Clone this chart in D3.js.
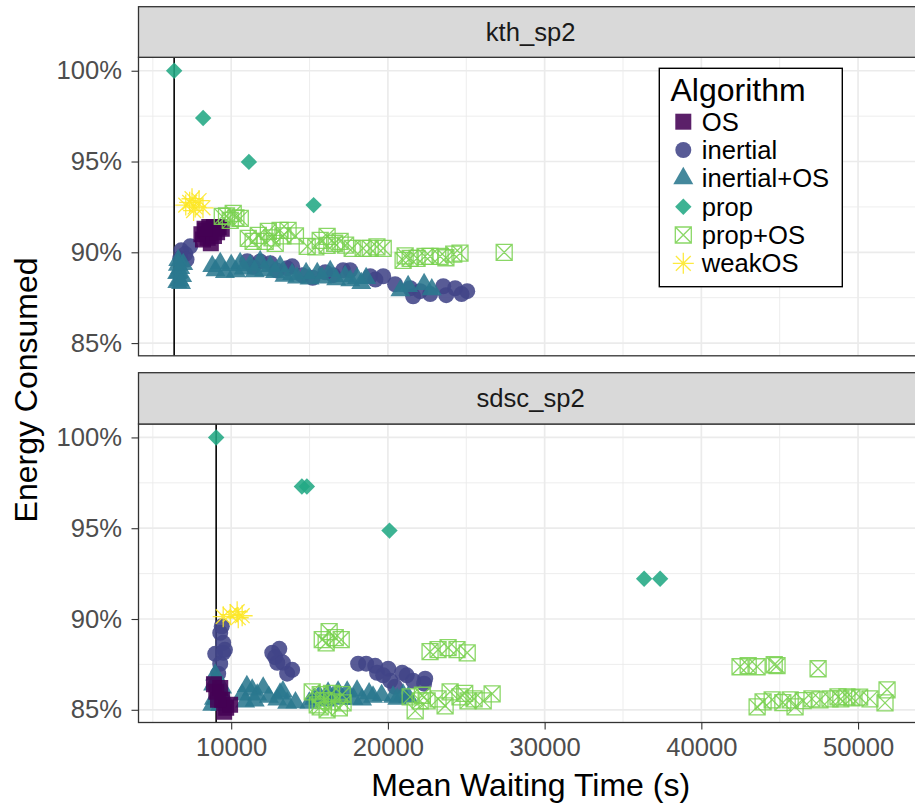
<!DOCTYPE html>
<html>
<head>
<meta charset="utf-8">
<script src="https://cdn.jsdelivr.net/npm/d3@7"></script>
<style>
  body { margin: 0; background: #fff; }
  svg text { font-family: "Liberation Sans", Arial, sans-serif; }
</style>
</head>
<body>
<div class="chart-container"></div>
<script>
/* categories */
const algorithms = ["OS", "inertial", "inertial+OS", "prop", "prop+OS", "weakOS"];
const algoColors = ["#440154", "#414487", "#2A788E", "#22A884", "#7AD151", "#FDE725"];
const algoShapes = ["square", "circle", "triangle", "diamond", "boxx", "star"];
const panels = ["kth_sp2", "sdsc_sp2"];
const xTicks = [10000, 20000, 30000, 40000, 50000];
const yTicks = [85, 90, 95, 100];
const baselineX = [6360, 9040];

/* kth_sp2 : [mean waiting time, energy %] */
const kthOS = [[8100,91.0],[8200,90.7],[8350,91.2],[8600,91.4],[8900,91.4],[9200,91.4],[9400,91.3],
  [8700,90.5],[8500,90.8],[8900,90.9],[9100,91.1],[8300,91.3]];
const kthInertial = [[6810,90.11],[7385,90.33],[6750,89.67],[7070,89.9],[7150,89.6],[11020,89.51],[11850,89.5],
  [12490,89.4],[13570,89.12],[13890,89.23],[14530,88.74],[16510,88.74],[17140,89.01],[17590,89.01],
  [18870,88.68],[19700,88.68],[20460,88.24],[21420,88.02],[21610,87.58],[22060,87.86],[23530,88.13],
  [23720,87.64],[24290,88.02],[25060,87.86],
  [11400,89.2],[12900,89.0],[15200,88.6],[16000,88.9],[19200,88.5],[22700,87.7],[24700,87.7]];
const kthInertialOS = [[6620,89.56],[6750,89.12],[6870,88.68],[6560,88.35],[6940,89.34],[6550,88.85],[6700,88.45],
  [6650,88.9],[6800,88.3],[6600,89.3],
  [8790,89.23],[9300,89.4],[10000,89.29],[10570,89.4],[11210,89.29],[11850,89.5],[12490,89.23],[13120,89.23],
  [13890,88.79],[14780,88.85],[15490,88.85],[16320,88.96],[17270,88.68],[18030,88.57],[18610,88.57],
  [21290,88.13],[22310,88.24],
  [9000,89.0],[9600,88.9],[10300,88.95],[10800,89.1],[11500,88.95],[12100,89.0],[12800,88.9],[13400,88.7],
  [14200,88.6],[15000,88.55],[15800,88.6],[16700,88.5],[17600,88.45],[18300,88.3],[20800,87.9],[22800,87.95]];
const kthProp = [[6360,100],[8210,97.4],[11130,94.98],[15260,92.6]];
const kthPropOS = [[9430,91.98],[10130,92.14],[10580,91.87],[9940,91.76],[11090,90.77],[11730,90.93],[12370,91.15],
  [13120,91.21],[13630,91.21],[12170,90.6],[12810,90.49],[14850,90.33],[15680,90.66],[16120,90.88],[16120,90.38],
  [16950,90.6],[17720,90.22],[18420,90.22],[18870,90.22],[19700,90.22],[20970,89.56],[21420,89.67],[21860,89.67],
  [22370,89.78],[22690,89.78],[23330,89.78],[24600,89.95],[27420,90.0],
  [9700,92.0],[10300,91.9],[11400,90.6],[12600,90.8],[13300,90.9],[14100,90.9],[15400,90.3],[16600,90.5],
  [17300,90.4],[19300,90.3],[21100,89.8],[23700,89.7],[24200,89.9]];
const kthWeakOS = [[7100,92.6],[7500,92.95],[7700,92.5],[7950,92.85],[8200,92.45],[7600,92.3],[7350,92.75]];

/* sdsc_sp2 */
const sdscOS = [[9050,85.99],[9420,85.55],[9680,85.11],[9550,84.89],[9930,85.28],[9160,85.55],[8900,86.4],[9300,86.2]];
const sdscInertial = [[9300,89.24],[9490,88.69],[8980,88.08],[9490,88.14],[9300,87.54],[9170,86.99],
  [12620,88.14],[13070,88.36],[12940,87.59],[13890,87.2],[13570,86.99],[18100,87.54],[18610,87.54],
  [19190,87.42],[19310,87.04],[20020,87.26],[20150,86.6],[20460,86.27],[20910,87.04],[21610,86.6],
  [22380,86.71],[22310,86.44],
  [9400,89.6],[9600,88.3],[12800,87.9],[13300,87.6],[19700,86.9],[21200,86.9]];
const sdscInertialOS = [[8850,86.38],[9170,85.83],[9420,86.21],[8790,85.27],[9300,85.27],[8980,86.93],[9550,85.66],
  [10700,85.83],[11340,86.1],[11660,85.83],[10890,85.44],[12040,86.21],[12940,85.55],[13120,85.88],[13570,85.38],
  [14980,85.38],[15620,85.77],[16180,85.93],[16820,85.99],[17400,85.99],[18030,86.05],[18350,85.55],
  [19050,85.71],[20330,85.71],[20970,85.83],
  [9000,86.6],[9250,86.0],[8900,85.6],[11000,86.3],[11500,85.5],[12400,85.7],[13300,86.0],[14100,85.4],
  [15300,85.6],[16000,85.5],[16500,85.7],[17100,85.6],[17800,85.6],[18800,85.9],[19600,85.8],[20600,85.6],[21300,85.7]];
const sdscProp = [[9040,100],[14510,97.3],[14830,97.3],[20100,94.87],[36350,92.22],[37370,92.22]];
const sdscPropOS = [[15810,88.86],[16250,89.3],[16640,88.97],[17020,88.86],[16060,88.69],
  [15170,85.99],[15680,85.83],[15680,85.16],[16440,85.44],[17080,85.83],[17140,85.38],[16120,85.0],[15490,85.27],
  [16400,85.9],[16900,85.1],[15900,85.5],
  [22690,88.2],[23200,88.31],[23840,88.42],[24410,88.31],[25060,88.14],
  [21420,85.71],[21740,84.94],[22060,85.49],[22500,85.49],[23200,85.6],[23970,85.99],[24600,85.71],
  [25110,85.49],[26080,85.49],[26650,85.88],[23650,85.22],[22200,85.8],[24900,85.9],[25500,85.6],
  [42470,87.37],[42990,87.43],[43560,87.37],[44650,87.48],[44830,87.43],[47450,87.26],
  [43560,85.16],[43940,85.44],[44520,85.55],[45670,85.55],[45980,85.16],[47060,85.6],[47570,85.55],
  [48210,85.6],[48720,85.71],[49290,85.71],[49610,85.66],[50760,85.6],[51850,86.1],[51720,85.38],
  [45200,85.4],[46500,85.5],[48900,85.6],[50100,85.7]];
const sdscWeakOS = [[9490,90.13],[10380,90.4],[10450,90.07],[9940,90.24],[10700,90.18]];

const panelData = [
  [kthOS, kthInertial, kthInertialOS, kthProp, kthPropOS, kthWeakOS],
  [sdscOS, sdscInertial, sdscInertialOS, sdscProp, sdscPropOS, sdscWeakOS]
];

/* layout */
const svg_width = 915, svg_height = 805;
const panel_left = 138.5, panel_right = 922.7;
const strip_top = [6.7, 372.7];
const panel_top = [57.3, 424];
const panel_h = 298.5;
const font_base = 32, font_small = 25.6;

const svg = d3.select(".chart-container").append("svg")
  .attr("width", svg_width).attr("height", svg_height);

const xScale = d3.scaleLinear().domain([4085, 54125]).range([panel_left, panel_right]);

/* point shapes */
function shapePath(shape) {
  if (shape === "square") return d3.symbol(d3.symbolSquare, 16 * 16)();
  if (shape === "circle") return d3.symbol(d3.symbolCircle, Math.PI * 8 * 8)();
  if (shape === "triangle") return d3.symbol(d3.symbolTriangle, Math.sqrt(3) / 4 * 20 * 20)();
  if (shape === "diamond") return "M0,-8.2L8.2,0L0,8.2L-8.2,0Z";
  if (shape === "boxx") {
    const h = 8;
    return `M${-h},${-h}H${h}V${h}H${-h}Z M${-h},${-h}L${h},${h} M${h},${-h}L${-h},${h}`;
  }
  // star: plus + times
  const r = 10.5, q = r * Math.SQRT1_2;
  return `M${-r},0H${r} M0,${-r}V${r} M${-q},${-q}L${q},${q} M${q},${-q}L${-q},${q}`;
}
function styleShape(sel, k) {
  const stroked = algoShapes[k] === "boxx" || algoShapes[k] === "star";
  sel.attr("d", shapePath(algoShapes[k]))
    .attr("fill", stroked ? "none" : algoColors[k])
    .attr("stroke", stroked ? algoColors[k] : "none")
    .attr("stroke-width", stroked ? 1.3 : 0)
    .attr("opacity", 0.88);
}

const drawOrder = [1, 2, 0, 4, 3, 5];

panels.forEach((name, i) => {
  const top = panel_top[i];
  const yScale = d3.scaleLinear().domain([84.30, 100.74]).range([top + panel_h, top]);
  const g = svg.append("g").attr("class", "panel");

  g.append("clipPath").attr("id", `clip${i}`)
    .append("rect").attr("x", panel_left).attr("y", top)
    .attr("width", panel_right - panel_left).attr("height", panel_h);

  const inner = g.append("g").attr("clip-path", `url(#clip${i})`);

  /* grid */
  const xMinor = d3.range(5000, 56000, 10000);
  const yMinor = [87.5, 92.5, 97.5];
  inner.selectAll(".xminor").data(xMinor).join("line")
    .attr("x1", d => xScale(d)).attr("x2", d => xScale(d))
    .attr("y1", top).attr("y2", top + panel_h)
    .attr("stroke", "#EBEBEB").attr("stroke-width", 0.9);
  inner.selectAll(".yminor").data(yMinor).join("line")
    .attr("y1", d => yScale(d)).attr("y2", d => yScale(d))
    .attr("x1", panel_left).attr("x2", panel_right)
    .attr("stroke", "#EBEBEB").attr("stroke-width", 0.9);
  inner.selectAll(".xmajor").data(xTicks).join("line")
    .attr("x1", d => xScale(d)).attr("x2", d => xScale(d))
    .attr("y1", top).attr("y2", top + panel_h)
    .attr("stroke", "#EBEBEB").attr("stroke-width", 1.7);
  inner.selectAll(".ymajor").data(yTicks).join("line")
    .attr("y1", d => yScale(d)).attr("y2", d => yScale(d))
    .attr("x1", panel_left).attr("x2", panel_right)
    .attr("stroke", "#EBEBEB").attr("stroke-width", 1.7);

  /* baseline vertical line */
  inner.append("line")
    .attr("x1", xScale(baselineX[i])).attr("x2", xScale(baselineX[i]))
    .attr("y1", top).attr("y2", top + panel_h)
    .attr("stroke", "#000").attr("stroke-width", 1.6);

  /* points */
  drawOrder.forEach(k => {
    inner.append("g").selectAll("path").data(panelData[i][k]).join("path")
      .call(styleShape, k)
      .attr("transform", d => `translate(${xScale(d[0])},${yScale(d[1])})`);
  });

  /* border */
  g.append("rect").attr("x", panel_left).attr("y", top)
    .attr("width", panel_right - panel_left).attr("height", panel_h)
    .attr("fill", "none").attr("stroke", "#333333").attr("stroke-width", 1.3);

  /* strip */
  g.append("rect").attr("x", panel_left).attr("y", strip_top[i])
    .attr("width", panel_right - panel_left).attr("height", top - strip_top[i])
    .attr("fill", "#D9D9D9").attr("stroke", "#333333").attr("stroke-width", 1.3);
  g.append("text").attr("x", (panel_left + panel_right) / 2)
    .attr("y", (strip_top[i] + top) / 2).attr("dy", "0.35em")
    .attr("text-anchor", "middle").attr("font-size", font_small)
    .attr("fill", "#1A1A1A").text(name);

  /* y axis */
  const yAxis = d3.axisLeft(yScale).tickValues(yTicks).tickFormat(d => d + "%")
    .tickSize(7).tickPadding(9.5);
  const ya = g.append("g").attr("transform", `translate(${panel_left},0)`).call(yAxis);
  ya.select(".domain").remove();
  ya.selectAll("line").attr("stroke", "#333333").attr("stroke-width", 1.1);
  ya.selectAll("text").attr("font-size", font_small).attr("fill", "#4D4D4D")
    .attr("font-family", "Liberation Sans, Arial, sans-serif");

  /* x axis on bottom panel */
  if (i === panels.length - 1) {
    const xAxis = d3.axisBottom(xScale).tickValues(xTicks).tickFormat(d3.format("d"))
      .tickSize(7).tickPadding(8.8);
    const xa = g.append("g").attr("transform", `translate(0,${top + panel_h})`).call(xAxis);
    xa.select(".domain").remove();
    xa.selectAll("line").attr("stroke", "#333333").attr("stroke-width", 1.1);
    xa.selectAll("text").attr("font-size", font_small).attr("fill", "#4D4D4D")
      .attr("font-family", "Liberation Sans, Arial, sans-serif");
  }
});

/* axis titles */
svg.append("text").attr("x", (panel_left + panel_right) / 2).attr("y", 796)
  .attr("text-anchor", "middle").attr("font-size", font_base).attr("fill", "#000")
  .text("Mean Waiting Time (s)");
svg.append("text")
  .attr("transform", `translate(36.5,${(panel_top[0] + panel_top[1] + panel_h) / 2}) rotate(-90)`)
  .attr("text-anchor", "middle").attr("font-size", font_base).attr("fill", "#000")
  .text("Energy Consumed");

/* legend */
const legend = svg.append("g").attr("class", "legend");
legend.append("rect").attr("x", 659.3).attr("y", 68.3).attr("width", 183).attr("height", 218.4)
  .attr("fill", "#fff").attr("stroke", "#000").attr("stroke-width", 1.4);
legend.append("text").attr("x", 670.5).attr("y", 100.5).attr("font-size", font_base)
  .attr("fill", "#000").text("Algorithm");
const items = legend.selectAll(".item").data(algorithms).join("g")
  .attr("transform", (d, k) => `translate(683.3,${121.7 + k * 28.33})`);
items.append("path").each(function (d, k) { d3.select(this).call(styleShape, k); });
items.append("text").attr("x", 18.5).attr("dy", "0.35em").attr("font-size", font_small)
  .attr("fill", "#000").text(d => d);
</script>
</body>
</html>
